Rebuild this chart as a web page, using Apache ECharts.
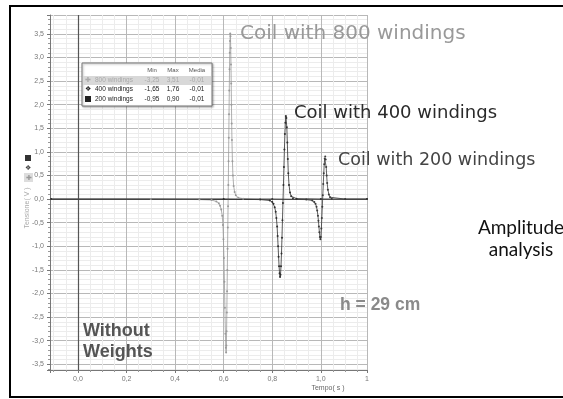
<!DOCTYPE html>
<html>
<head>
<meta charset="utf-8">
<script src="https://cdn.jsdelivr.net/npm/echarts@6/dist/echarts.min.js"></script>
<style>
  html, body { margin: 0; padding: 0; background: #fff; }
  #chart { width: 563px; height: 399px; }
</style>
</head>
<body>
<div id="chart"></div>
<script>
// time (s), voltage (V)
const coil800 = [
    [-0.11, 0], [0.30, 0], [0.50, -0.01], [0.55, -0.02], [0.57, -0.05], [0.58, -0.09],
    [0.585, -0.14], [0.59, -0.22], [0.594, -0.35], [0.597, -0.55], [0.599, -0.85],
    [0.601, -1.25], [0.603, -1.75], [0.605, -2.3], [0.607, -2.85], [0.609, -3.15],
    [0.610, -3.25], [0.611, -3.1], [0.612, -2.8], [0.613, -2.4], [0.614, -1.95],
    [0.615, -1.5], [0.616, -1.05], [0.617, -0.6], [0.618, -0.15], [0.619, 0.3],
    [0.620, 0.8], [0.621, 1.3], [0.622, 1.8], [0.623, 2.3], [0.624, 2.75], [0.625, 3.1],
    [0.626, 3.35], [0.627, 3.51], [0.628, 3.45], [0.629, 3.2], [0.630, 2.85], [0.631, 2.45],
    [0.632, 2.0], [0.633, 1.6], [0.634, 1.25], [0.636, 0.8], [0.638, 0.5], [0.641, 0.28],
    [0.645, 0.15], [0.65, 0.08], [0.66, 0.03], [0.68, 0.01], [0.75, 0], [1.19, 0]
];
const coil400 = [
    [-0.11, 0], [0.60, 0], [0.75, -0.01], [0.79, -0.03], [0.80, -0.06], [0.805, -0.1],
    [0.81, -0.17], [0.814, -0.27], [0.817, -0.4], [0.82, -0.58], [0.822, -0.78],
    [0.824, -1.0], [0.826, -1.22], [0.828, -1.42], [0.830, -1.57], [0.832, -1.65],
    [0.834, -1.6], [0.836, -1.42], [0.838, -1.15], [0.840, -0.82], [0.842, -0.45],
    [0.844, -0.08], [0.846, 0.3], [0.848, 0.68], [0.850, 1.05], [0.852, 1.38],
    [0.854, 1.62], [0.856, 1.76], [0.858, 1.72], [0.860, 1.52], [0.862, 1.2],
    [0.864, 0.85], [0.866, 0.55], [0.869, 0.3], [0.873, 0.14], [0.878, 0.06],
    [0.885, 0.02], [0.90, 0.01], [1.00, 0], [1.19, 0]
];
const coil200 = [
    [-0.11, 0], [0.80, 0], [0.94, -0.01], [0.965, -0.03], [0.973, -0.06], [0.978, -0.1],
    [0.982, -0.16], [0.985, -0.24], [0.988, -0.35], [0.990, -0.46], [0.992, -0.58],
    [0.994, -0.7], [0.996, -0.8], [0.998, -0.85], [1.000, -0.8], [1.002, -0.62],
    [1.004, -0.4], [1.006, -0.16], [1.008, 0.08], [1.010, 0.32], [1.012, 0.55],
    [1.014, 0.74], [1.016, 0.86], [1.018, 0.9], [1.020, 0.84], [1.022, 0.68],
    [1.024, 0.5], [1.026, 0.34], [1.029, 0.2], [1.033, 0.1], [1.038, 0.04],
    [1.045, 0.01], [1.10, 0], [1.19, 0]
];

const seriesNames = ['800 windings', '400 windings', '200 windings'];
const seriesColors = ['#9a9a9a', '#2e2e2e', '#3a3a3a'];
const tableHeader = ['Min', 'Max', 'Media'];
const tableMin = ['-3,25', '-1,65', '-0,95'];
const tableMax = ['3,51', '1,76', '0,90'];
const tableMedia = ['-0,01', '-0,01', '-0,01'];

const xRange = [-0.115, 1.19];
const yRange = [-3.62, 3.9];

let chart = echarts.init(document.getElementById('chart'));

function comma(v) {
    return v.toFixed(1).replace('.', ',');
}

function make_series(name, data, color) {
    return {
        name: name,
        type: 'line',
        data: data,
        symbol: 'circle',
        symbolSize: 2,
        showSymbol: true,
        showAllSymbol: true,
        itemStyle: { color: color },
        lineStyle: { color: color, width: 0.8 },
        animation: false,
        z: 5
    };
}

let series = [
    make_series(seriesNames[0], coil800, seriesColors[0]),
    make_series(seriesNames[1], coil400, seriesColors[1]),
    make_series(seriesNames[2], coil200, seriesColors[2])
];
series[0].markLine = {
    silent: true,
    symbol: 'none',
    label: { show: false },
    animation: false,
    lineStyle: { color: '#555', width: 1.2, type: 'solid' },
    data: [{ xAxis: 0 }, { yAxis: 0 }]
};

// legend table
const tx = 82, ty = 63;
let table = [
    {
        type: 'rect',
        shape: { x: tx, y: ty, width: 130, height: 43 },
        style: { fill: '#fff', stroke: '#777', lineWidth: 1, shadowBlur: 2, shadowColor: 'rgba(0,0,0,0.3)', shadowOffsetX: 1, shadowOffsetY: 1 },
        z: 20
    },
    {
        type: 'rect',
        shape: { x: tx + 1, y: ty + 13, width: 128, height: 9 },
        style: { fill: '#d8d8d8' },
        z: 21
    }
];
const colX = [152, 173, 197];
tableHeader.forEach((h, i) => {
    table.push({
        type: 'text', x: colX[i], y: ty + 7, z: 22,
        style: { text: h, fontSize: 6, fill: '#555', fontFamily: 'Liberation Sans', align: 'center', verticalAlign: 'middle' }
    });
});
seriesNames.forEach((n, i) => {
    const y = ty + 17 + i * 9.5;
    const c = i === 0 ? '#aaa' : '#222';
    table.push({
        type: 'text', x: tx + 13, y: y, z: 22,
        style: { text: n, fontSize: 6.5, fill: c, fontFamily: 'Liberation Sans', verticalAlign: 'middle' }
    });
    [tableMin[i], tableMax[i], tableMedia[i]].forEach((v, j) => {
        table.push({
            type: 'text', x: colX[j], y: y, z: 22,
            style: { text: v, fontSize: 6.5, fill: c, fontFamily: 'Liberation Sans', align: 'center', verticalAlign: 'middle' }
        });
    });
});
// row icons
table.push(
    { type: 'text', x: tx + 6, y: ty + 17, z: 22, style: { text: '✚', fontSize: 7, fill: '#aaa', align: 'center', verticalAlign: 'middle' } },
    { type: 'text', x: tx + 6, y: ty + 26.5, z: 22, style: { text: '❖', fontSize: 7, fill: '#222', align: 'center', verticalAlign: 'middle' } },
    { type: 'rect', shape: { x: tx + 3, y: ty + 33, width: 6, height: 6 }, style: { fill: '#222' }, z: 22 }
);

let graphics = table.concat([
    // outer frame
    { type: 'rect', shape: { x: 10, y: 6, width: 620, height: 391 }, style: { fill: 'none', stroke: '#000', lineWidth: 2 }, z: 30 },
    // side icons
    { type: 'rect', shape: { x: 25, y: 155, width: 6, height: 6 }, style: { fill: '#333' }, z: 22 },
    { type: 'text', x: 28, y: 168, z: 22, style: { text: '❖', fontSize: 7, fill: '#444', align: 'center', verticalAlign: 'middle' } },
    { type: 'rect', shape: { x: 24, y: 173, width: 9, height: 9 }, style: { fill: '#ddd' }, z: 21 },
    { type: 'text', x: 28.5, y: 178, z: 22, style: { text: '✚', fontSize: 7, fill: '#999', align: 'center', verticalAlign: 'middle' } },
    {
        type: 'text', x: 27, y: 208, rotation: Math.PI / 2, z: 22,
        style: { text: 'Tensione( V )', fontSize: 7, fill: '#aaa', fontFamily: 'Liberation Sans', align: 'center', verticalAlign: 'middle' }
    },
    {
        type: 'text', x: 328, y: 388, z: 22,
        style: { text: 'Tempo( s )', fontSize: 7, fill: '#666', fontFamily: 'Liberation Sans', align: 'center', verticalAlign: 'middle' }
    },
    // annotations
    {
        type: 'text', x: 240, y: 34, z: 22,
        style: { text: 'Coil with 800 windings', fontSize: 20, fill: '#999', fontFamily: 'DejaVu Sans', verticalAlign: 'middle' }
    },
    {
        type: 'text', x: 294, y: 113, z: 22,
        style: { text: 'Coil with 400 windings', fontSize: 18, fill: '#2a2a2a', fontFamily: 'DejaVu Sans', verticalAlign: 'middle' }
    },
    {
        type: 'text', x: 338, y: 160, z: 22,
        style: { text: 'Coil with 200 windings', fontSize: 17.5, fill: '#444', fontFamily: 'DejaVu Sans', verticalAlign: 'middle' }
    },
    {
        type: 'text', x: 521, y: 239, z: 22,
        style: { text: 'Amplitude\nanalysis', fontSize: 19, lineHeight: 22, fill: '#111', fontFamily: 'Lato', align: 'center', verticalAlign: 'middle' }
    },
    {
        type: 'text', x: 340, y: 305, z: 22,
        style: { text: 'h = 29 cm', fontSize: 17.5, fill: '#8a8a8a', fontWeight: 'bold', fontFamily: 'Liberation Sans', verticalAlign: 'middle' }
    },
    {
        type: 'text', x: 83, y: 342, z: 22,
        style: { text: 'Without\nWeights', fontSize: 18, lineHeight: 21, fill: '#555', fontWeight: 'bold', fontFamily: 'Liberation Sans', verticalAlign: 'middle' }
    }
]);

let options = {
    backgroundColor: '#fff',
    animation: false,
    grid: { left: 50, top: 15, right: 196, bottom: 29, containLabel: false },
    xAxis: {
        type: 'value',
        min: xRange[0],
        max: xRange[1],
        minInterval: 0.2,
        maxInterval: 0.2,
        splitNumber: 7,
        axisLine: { show: true, onZero: false, lineStyle: { color: '#777', width: 1 } },
        axisTick: { show: true, length: 3, lineStyle: { color: '#777' } },
        minorTick: { show: true, splitNumber: 4, length: 2, lineStyle: { color: '#999' } },
        axisLabel: {
            fontSize: 7, color: '#777', margin: 6, fontFamily: 'Liberation Sans',
            showMinLabel: false, showMaxLabel: true,
            formatter: v => (v > 1.15 ? '1' : comma(v))
        },
        splitLine: { show: true, lineStyle: { color: '#b8b8b8', width: 1 } },
        minorSplitLine: { show: true, lineStyle: { color: '#ececec', width: 1 } }
    },
    yAxis: {
        type: 'value',
        min: yRange[0],
        max: yRange[1],
        minInterval: 0.5,
        maxInterval: 0.5,
        splitNumber: 15,
        axisLine: { show: true, onZero: false, lineStyle: { color: '#777', width: 1 } },
        axisTick: { show: true, length: 3, lineStyle: { color: '#777' } },
        minorTick: { show: true, splitNumber: 5, length: 2, lineStyle: { color: '#999' } },
        axisLabel: {
            fontSize: 7, color: '#777', margin: 6, fontFamily: 'Liberation Sans',
            showMinLabel: false, showMaxLabel: false,
            formatter: v => comma(v)
        },
        splitLine: { show: true, lineStyle: { color: '#b8b8b8', width: 1 } },
        minorSplitLine: { show: true, lineStyle: { color: '#ececec', width: 1 } }
    },
    graphic: graphics,
    series: series
};

chart.setOption(options);
</script>
</body>
</html>
